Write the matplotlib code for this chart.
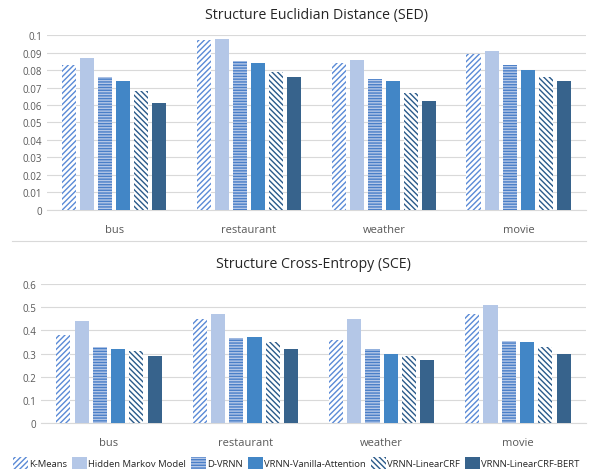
import matplotlib
matplotlib.use("Agg")
import matplotlib.pyplot as plt
import numpy as np
from matplotlib.patches import Patch
from matplotlib.lines import Line2D

plt.rcParams['font.family'] = ['Open Sans', 'DejaVu Sans']
plt.rcParams['hatch.linewidth'] = 1.0

categories = ["bus", "restaurant", "weather", "movie"]
models = ["K-Means", "Hidden Markov Model", "D-VRNN", "VRNN-Vanilla-Attention",
          "VRNN-LinearCRF", "VRNN-LinearCRF-BERT"]

sed_kmeans = [0.083, 0.097, 0.084, 0.089]
sed_hmm = [0.087, 0.098, 0.086, 0.091]
sed_dvrnn = [0.076, 0.085, 0.075, 0.083]
sed_vanilla = [0.074, 0.084, 0.074, 0.080]
sed_crf = [0.068, 0.079, 0.067, 0.076]
sed_bert = [0.061, 0.076, 0.062, 0.074]

sce_kmeans = [0.38, 0.45, 0.36, 0.47]
sce_hmm = [0.44, 0.47, 0.45, 0.51]
sce_dvrnn = [0.33, 0.365, 0.32, 0.355]
sce_vanilla = [0.32, 0.37, 0.30, 0.35]
sce_crf = [0.31, 0.35, 0.29, 0.33]
sce_bert = [0.29, 0.32, 0.27, 0.30]

# (facecolor, hatchcolor, hatch)
styles = [
    ("white", "#5A8AD6", "//////"),
    ("#B4C7E7", "#B4C7E7", ""),
    ("#B4C7E7", "#4A7FC8", "------"),
    ("#4286C6", "#4286C6", ""),
    ("white", "#2A5A8A", "\\\\\\\\\\\\"),
    ("#37638C", "#37638C", ""),
]

fig = plt.figure(figsize=(5.92, 4.77), dpi=100)
ax1 = fig.add_axes([0.079, 0.5577, 0.911, 0.3668])
ax2 = fig.add_axes([0.069, 0.111, 0.921, 0.2915])

x = np.arange(len(categories))
bw = 0.104
pitch = 0.134


def draw(ax, series, ymax, step, fmt, title):
    for i, vals in enumerate(series):
        fc, hc, h = styles[i]
        offs = (i - 2.5) * pitch
        ax.bar(x + offs, vals, bw, facecolor=fc, edgecolor=hc, hatch=h,
               linewidth=0, zorder=3)
    ax.set_xlim(-0.5, len(categories) - 0.5)
    ax.set_ylim(0, ymax)
    ticks = np.arange(0, ymax + step / 2, step)
    ax.set_yticks(ticks)
    ax.set_yticklabels([fmt(t) for t in ticks])
    ax.set_xticks(x)
    ax.set_xticklabels(categories)
    ax.grid(axis='y', color='#D9D9D9', linewidth=0.8, zorder=0)
    for s in ['top', 'right', 'left']:
        ax.spines[s].set_visible(False)
    ax.spines['bottom'].set_color('#D9D9D9')
    ax.tick_params(axis='both', length=0, colors='#595959', labelsize=7)
    ax.tick_params(axis='x', labelsize=8, pad=10)
    ax.set_title(title, fontsize=10.2, color='#262626', pad=12)


def fmt_sed(t):
    if abs(t) < 1e-9:
        return "0"
    s = ("%.2f" % t).rstrip('0').rstrip('.')
    return s


def fmt_sce(t):
    if abs(t) < 1e-9:
        return "0"
    return "%.1f" % t


draw(ax1, [sed_kmeans, sed_hmm, sed_dvrnn, sed_vanilla, sed_crf, sed_bert],
     0.1, 0.01, fmt_sed, "Structure Euclidian Distance (SED)")
draw(ax2, [sce_kmeans, sce_hmm, sce_dvrnn, sce_vanilla, sce_crf, sce_bert],
     0.6, 0.1, fmt_sce, "Structure Cross-Entropy (SCE)")

# separator between the two charts
fig.add_artist(Line2D([0.02, 0.99], [1 - 242 / 477, 1 - 242 / 477],
                      color='#D9D9D9', linewidth=0.8))

handles = [Patch(facecolor=fc, edgecolor=hc, hatch=h, linewidth=0)
           for fc, hc, h in styles]
fig.legend(handles, models, loc='center', bbox_to_anchor=(0.5, 1 - 464 / 477),
           ncol=6, frameon=False, fontsize=6.8, handlelength=1.6, handleheight=1.6,
           handletextpad=0.1, columnspacing=0.55, labelcolor='#262626')

fig.savefig("out.png", dpi=100)
